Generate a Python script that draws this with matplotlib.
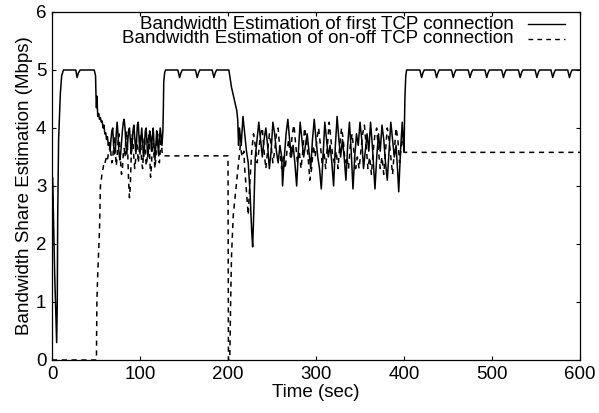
import matplotlib
matplotlib.use('Agg')
import matplotlib.pyplot as plt

plt.rcParams['font.family'] = ['Liberation Sans', 'DejaVu Sans']

# first TCP connection (solid) : time (sec), bandwidth estimate (Mbps)
t_first = [0, 0.5, 1.5, 3, 5.3, 6, 6.5, 7.5, 9.5, 11, 13, 20, 27, 28.5, 30, 32, 40, 48, 49.5,
           50, 50.5, 51, 52, 53, 54, 55, 56, 57, 58, 59, 60, 61, 62, 63, 64, 65, 66, 67, 68, 69,
           70, 71, 72, 73, 74, 75, 76, 77, 78, 79, 80, 81, 82, 83, 84, 85, 86, 87, 88, 89,
           90, 91, 92, 93, 94, 95, 96, 97, 98, 99, 100, 101, 102, 103, 104, 105, 106, 107, 108, 109,
           110, 111, 112, 113, 114, 115, 116, 117, 118, 119, 120, 121, 122, 123, 124, 125, 126, 126.5, 127, 128, 129,
           143, 145, 146.5, 148, 163, 165, 166.5, 168, 182, 184, 185.5, 187, 201, 202, 204, 207, 210, 211, 212,
           213, 215, 217, 219, 221, 223, 225, 227, 228, 229, 231, 233, 235, 237, 239, 241, 243, 245, 247, 249,
           251, 253, 255, 257, 259, 261, 262, 264, 266, 268, 270, 272, 274, 276, 278, 280, 282, 284, 286, 288,
           290, 292, 294, 296, 298, 300, 302, 304, 306, 308, 310, 312, 314, 316, 318, 320, 322, 324, 326, 328,
           330, 332, 334, 336, 338, 340, 342, 344, 346, 348, 350, 352, 354, 356, 358, 360, 362, 364, 366, 367,
           369, 371, 373, 375, 377, 379, 381, 383, 385, 387, 389, 391, 393, 394, 396, 398, 399, 400, 401, 402, 403,
           418, 420, 421.5, 423, 435, 437, 438.5, 440, 454, 456, 457.5, 459, 473, 475, 476.5, 478,
           492, 494, 495.5, 497, 511, 513, 514.5, 516, 530, 532, 533.5, 535, 549, 551, 552.5, 554,
           567, 569, 570.5, 572, 586, 588, 589.5, 591, 600]
bw_first = [0.0, 3.15, 2.6, 1.5, 0.3, 1.0, 2.5, 3.8, 4.6, 4.9, 5.0, 5.0, 5.0, 4.87, 4.95, 5.0, 5.0, 5.0, 4.9,
            4.55, 4.35, 4.55, 4.2, 4.25, 4.15, 4.18, 4.1, 4.12, 4.0, 4.05, 3.9, 3.92, 3.8, 3.85, 3.7, 3.75, 3.6, 3.8, 3.95, 4.0,
            3.7, 3.55, 3.6, 3.9, 4.1, 3.9, 3.6, 3.45, 3.55, 3.75, 3.95, 4.1, 4.15, 4.0, 3.7, 3.55, 3.75, 3.95, 4.0, 3.8,
            3.55, 3.7, 3.95, 4.05, 3.85, 3.6, 3.75, 4.05, 4.1, 3.8, 3.55, 3.8, 4.0, 3.75, 3.5, 3.65, 3.95, 4.0, 3.7, 3.5,
            3.7, 3.95, 3.85, 3.6, 3.85, 4.0, 3.7, 3.45, 3.7, 3.95, 3.8, 3.55, 3.8, 4.0, 3.85, 3.7, 3.95, 4.3, 4.8, 4.95, 5.0,
            5.0, 4.87, 4.95, 5.0, 5.0, 4.87, 4.95, 5.0, 5.0, 4.87, 4.95, 5.0, 5.0, 4.9, 4.7, 4.5, 4.3, 4.15, 3.7,
            4.0, 3.7, 4.2, 3.9, 3.6, 3.4, 2.9, 2.2, 1.95, 2.4, 3.5, 3.8, 4.1, 3.8, 3.5, 3.8, 4.0, 3.7, 3.3, 3.6,
            4.1, 3.9, 3.6, 3.4, 3.7, 3.5, 3.0, 3.5, 3.9, 4.15, 3.8, 3.5, 3.7, 3.4, 3.0, 3.6, 4.1, 3.8, 3.5, 3.7,
            3.9, 3.6, 3.3, 3.8, 4.15, 3.8, 3.5, 3.3, 2.95, 3.5, 4.1, 3.8, 3.5, 3.7, 3.4, 3.0, 3.7, 4.2, 3.8, 3.5,
            3.8, 3.5, 3.1, 3.7, 4.1, 3.6, 2.95, 3.5, 3.9, 3.7, 4.1, 3.8, 3.3, 3.6, 3.9, 3.6, 4.1, 3.7, 3.2, 2.95,
            3.5, 3.9, 3.6, 4.05, 3.8, 3.4, 3.1, 3.6, 4.1, 3.8, 3.5, 3.7, 3.2, 2.9, 3.6, 4.1, 3.8, 3.6, 4.5, 4.9, 5.0,
            5.0, 4.87, 4.95, 5.0, 5.0, 4.87, 4.95, 5.0, 5.0, 4.87, 4.95, 5.0, 5.0, 4.87, 4.95, 5.0,
            5.0, 4.87, 4.95, 5.0, 5.0, 4.87, 4.95, 5.0, 5.0, 4.87, 4.95, 5.0, 5.0, 4.87, 4.95, 5.0,
            5.0, 4.87, 4.95, 5.0, 5.0, 4.87, 4.95, 5.0, 5.0]

# on-off TCP connection (dashed)
t_onoff = [0, 50.5, 51, 52, 53, 54, 54.5, 55, 56, 57, 58, 59, 60, 61, 62, 63, 64, 65, 66, 67, 68, 69,
           70, 71, 72, 73, 74, 75, 76, 77, 78, 79, 80, 81, 82, 83, 84, 85, 86, 87, 88, 89,
           90, 91, 92, 93, 94, 95, 96, 97, 98, 99, 100, 101, 102, 103, 104, 105, 106, 107, 108, 109,
           110, 111, 112, 113, 114, 115, 116, 117, 118, 119, 120, 121, 122, 123, 124, 125, 126,
           200, 200.5, 202, 203, 204, 206, 208, 210,
           212, 214, 216, 218, 219, 221, 223, 225, 227, 229, 231, 233, 235, 237, 239, 241, 243, 245, 247, 249,
           251, 253, 255, 257, 259, 261, 263, 265, 267, 269, 271, 273, 275, 277, 279, 281, 283, 285, 287, 289,
           291, 293, 295, 297, 299, 301, 303, 305, 307, 309, 311, 313, 315, 317, 319, 321, 323, 325, 327, 329,
           331, 333, 335, 337, 339, 341, 343, 345, 347, 349, 351, 353, 355, 357, 359, 361, 363, 365, 367, 369,
           371, 373, 375, 377, 379, 381, 383, 385, 387, 389, 391, 393, 395, 397, 399, 400, 600]
bw_onoff = [0.0, 0.0, 1.0, 1.5, 1.9, 2.25, 2.6, 3.0, 3.1, 3.25, 3.3, 3.4, 3.38, 3.45, 3.5, 3.45, 3.55, 3.6, 3.7, 3.55, 3.4, 3.45,
            3.7, 3.85, 3.6, 3.35, 3.5, 3.75, 3.9, 3.7, 3.4, 3.2, 3.3, 3.55, 3.65, 3.5, 3.85, 3.95, 3.6, 3.1, 2.8, 3.0,
            3.5, 3.9, 3.75, 3.5, 3.3, 3.45, 3.8, 3.7, 3.4, 3.55, 3.9, 3.7, 3.4, 3.3, 3.6, 3.85, 3.6, 3.35, 3.45, 3.8,
            3.9, 3.5, 3.15, 3.35, 3.7, 3.75, 3.5, 3.3, 3.5, 3.8, 3.9, 3.6, 3.4, 3.6, 3.85, 3.6, 3.52,
            3.52, 0.0, 0.0, 1.0, 1.8, 2.5, 2.8, 3.1,
            3.4, 3.7, 3.5, 3.6, 3.3, 2.9, 2.5, 3.1, 3.6, 3.9, 3.7, 3.4, 3.6, 3.9, 4.0, 3.6, 3.3, 3.6, 3.9, 3.7,
            3.4, 3.6, 3.9, 4.0, 3.6, 3.3, 3.5, 3.3, 3.6, 3.8, 3.5, 3.9, 4.05, 3.7, 3.4, 3.6, 3.3, 3.6, 4.0, 3.8,
            3.5, 3.1, 3.3, 3.7, 3.5, 3.8, 4.0, 3.7, 3.4, 3.6, 3.3, 3.7, 4.1, 3.8, 3.5, 3.4, 3.6, 3.3, 3.7, 4.0,
            3.8, 3.4, 3.5, 3.3, 3.7, 3.9, 3.6, 3.3, 3.5, 3.3, 3.6, 3.9, 4.05, 3.7, 3.3, 3.5, 3.2, 3.6, 3.9, 4.0,
            3.6, 3.3, 3.5, 3.2, 3.6, 4.0, 3.8, 3.5, 3.2, 3.6, 4.0, 3.8, 3.4, 3.7, 3.9, 3.58, 3.58]

labels = ['Bandwidth Estimation of first TCP connection',
          'Bandwidth Estimation of on-off TCP connection']

fig = plt.figure(figsize=(5.99, 4.13), dpi=100)
ax = fig.add_axes([52 / 599, 53 / 413, 528 / 599, 348 / 413])

ax.plot(t_first, bw_first, color='black', lw=1.1)
ax.plot(t_onoff, bw_onoff, color='black', lw=1.1, dashes=(3.4, 3.0))

# gnuplot style key: both entries in one right aligned text block, samples to the right
ax.text(0.875, 0.944, '\n'.join(labels), transform=ax.transAxes, ha='right', va='center',
        multialignment='right', linespacing=0.8, fontsize=13.5)
ax.plot([0.902, 0.972], [0.965, 0.965], transform=ax.transAxes, color='black', lw=1.0)
ax.plot([0.902, 0.972], [0.923, 0.923], transform=ax.transAxes, color='black', lw=1.0, dashes=(3.4, 3.0))

ax.set_xlim(0, 600)
ax.set_ylim(0, 6)
ax.set_xticks(range(0, 601, 100))
ax.set_yticks(range(0, 7))
ax.tick_params(direction='in', top=True, right=True, length=3, width=0.8, labelsize=13.5, pad=4)
for s in ax.spines.values():
    s.set_linewidth(0.9)
ax.set_xlabel('Time (sec)', fontsize=13.5, labelpad=1)
ax.set_ylabel('Bandwidth Share Estimation (Mbps)', fontsize=13.5, labelpad=2)

fig.savefig('out.png', dpi=100)
